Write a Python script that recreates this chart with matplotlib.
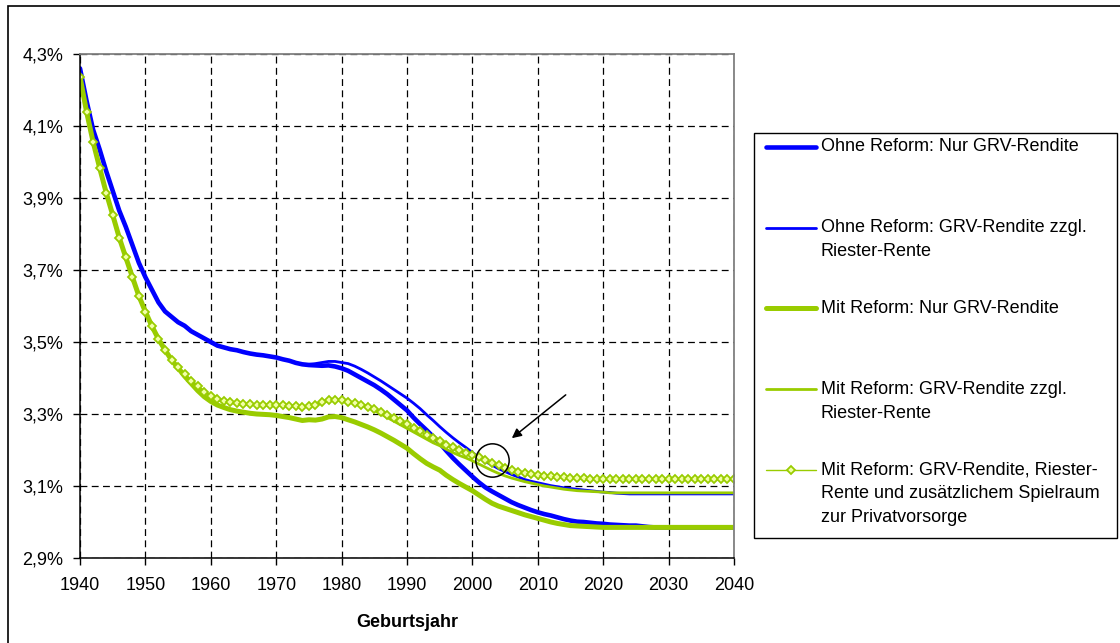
import numpy as np
import matplotlib
matplotlib.use("Agg")
import matplotlib.pyplot as plt
from matplotlib.lines import Line2D
from matplotlib.patches import Rectangle
from matplotlib.ticker import FuncFormatter

plt.rcParams['font.family'] = ['Liberation Sans', 'DejaVu Sans']

years = list(range(1940, 2041))

# Ohne Reform: Nur GRV-Rendite (in %)
ohne_nur_grv = [4.26, 4.17, 4.09, 4.035, 3.975, 3.92, 3.865, 3.82, 3.77, 3.72,
                3.68, 3.645, 3.61, 3.585, 3.57, 3.555, 3.545, 3.53, 3.52, 3.51,
                3.50, 3.49, 3.485, 3.48, 3.477, 3.472, 3.468, 3.465, 3.463, 3.46,
                3.457, 3.452, 3.448, 3.442, 3.438, 3.436, 3.435, 3.434, 3.435, 3.432,
                3.427, 3.42, 3.41, 3.40, 3.39, 3.38, 3.368, 3.355, 3.34, 3.325,
                3.31, 3.29, 3.272, 3.255, 3.237, 3.219, 3.198, 3.178, 3.16, 3.143,
                3.126, 3.11, 3.096, 3.085, 3.075, 3.065, 3.055, 3.047, 3.04, 3.033,
                3.027, 3.022, 3.018, 3.013, 3.008, 3.004, 3.001, 3.0, 2.998, 2.996,
                2.995, 2.993, 2.992, 2.991, 2.99, 2.99, 2.988, 2.986, 2.985, 2.985] + [2.985] * 11

# Ohne Reform: GRV-Rendite zzgl. Riester-Rente
ohne_riester = ohne_nur_grv[:35] + [
                3.438, 3.44, 3.443, 3.446, 3.446,
                3.443, 3.44, 3.433, 3.424, 3.414, 3.403, 3.392, 3.38, 3.368, 3.356,
                3.344, 3.33, 3.315, 3.298, 3.282, 3.265, 3.249, 3.234, 3.22, 3.207,
                3.193, 3.18, 3.168, 3.158, 3.148, 3.14, 3.132, 3.125, 3.118, 3.113,
                3.109, 3.105, 3.101, 3.098, 3.095, 3.093, 3.091, 3.089, 3.087, 3.085,
                3.083, 3.082, 3.08, 3.079, 3.078, 3.078, 3.078, 3.078, 3.078, 3.078] + [3.078] * 11

# Mit Reform: Nur GRV-Rendite
mit_nur_grv = [4.237, 4.14, 4.056, 3.984, 3.915, 3.853, 3.79, 3.735, 3.681, 3.628,
               3.584, 3.544, 3.508, 3.478, 3.45, 3.428, 3.405, 3.385, 3.365, 3.348,
               3.335, 3.325, 3.318, 3.312, 3.308, 3.305, 3.302, 3.30, 3.299, 3.298,
               3.296, 3.293, 3.29, 3.286, 3.282, 3.284, 3.283, 3.286, 3.292, 3.293,
               3.29, 3.284, 3.278, 3.271, 3.264, 3.256, 3.247, 3.237, 3.227, 3.216,
               3.205, 3.19, 3.176, 3.163, 3.153, 3.144, 3.13, 3.118, 3.107, 3.097,
               3.087, 3.075, 3.063, 3.052, 3.044, 3.038, 3.032, 3.026, 3.02, 3.015,
               3.01, 3.005, 3.0, 2.996, 2.993, 2.99, 2.989, 2.988, 2.987, 2.986] + [2.985] * 21

# Mit Reform: GRV-Rendite, Riester-Rente und Spielraum zur Privatvorsorge
mit_spielraum = mit_nur_grv[:15] + [
                3.43, 3.41, 3.393, 3.377, 3.362,
                3.35, 3.342, 3.336, 3.332, 3.33, 3.328, 3.327, 3.326, 3.326, 3.325,
                3.325, 3.324, 3.323, 3.322, 3.32, 3.322, 3.325, 3.332, 3.338, 3.34,
                3.338, 3.334, 3.33, 3.326, 3.32, 3.313, 3.305, 3.297, 3.289, 3.28,
                3.272, 3.262, 3.252, 3.242, 3.233, 3.224, 3.215, 3.207, 3.2, 3.193,
                3.187, 3.18, 3.172, 3.165, 3.157, 3.15, 3.145, 3.14, 3.137, 3.134,
                3.131, 3.129, 3.127, 3.125, 3.124, 3.123, 3.122, 3.121, 3.12, 3.12] + [3.119] * 21

# Mit Reform: GRV-Rendite zzgl. Riester-Rente
mit_riester = mit_spielraum[:45] + [
                3.31, 3.30, 3.29, 3.28, 3.27,
                3.26, 3.25, 3.24, 3.23, 3.22, 3.212, 3.202, 3.193, 3.185, 3.178,
                3.17, 3.161, 3.152, 3.143, 3.135, 3.128, 3.122, 3.117, 3.112, 3.108,
                3.104, 3.1, 3.097, 3.094, 3.091, 3.089, 3.087, 3.086, 3.085, 3.084,
                3.083] + [3.081] * 20

labels = [
    ["Ohne Reform: Nur GRV-Rendite"],
    ["Ohne Reform: GRV-Rendite zzgl.", "Riester-Rente"],
    ["Mit Reform: Nur GRV-Rendite"],
    ["Mit Reform: GRV-Rendite zzgl.", "Riester-Rente"],
    ["Mit Reform: GRV-Rendite, Riester-", "Rente und zusätzlichem Spielraum", "zur Privatvorsorge"],
]

blue = '#0000ff'
green = '#99cc00'

fig = plt.figure(figsize=(11.2, 6.43), dpi=100)
ax = fig.add_axes([80 / 1120, 1 - 558 / 643, 654 / 1120, 504 / 643])

styles = [
    dict(color=blue, lw=3.3),
    dict(color=blue, lw=2.0),
    dict(color=green, lw=3.6),
    dict(color=green, lw=2.0),
    dict(color=green, lw=1.0, marker='D', ms=4.2, mfc='#f2ffa8', mec=green, mew=1.3),
]
series = [ohne_nur_grv, ohne_riester, mit_nur_grv, mit_riester, mit_spielraum]
for s, st in zip(series, styles):
    ax.plot(years, s, solid_capstyle='round', **st)

ax.set_xlim(1940, 2040)
ax.set_ylim(2.9, 4.3)
ax.set_xticks(range(1940, 2041, 10))
ax.set_yticks(np.arange(2.9, 4.31, 0.2))
ax.yaxis.set_major_formatter(FuncFormatter(lambda v, p: f"{v:.1f}%".replace('.', ',')))
ax.grid(True, color='black', lw=0.9, linestyle=(0, (5.5, 3.5)))
ax.set_axisbelow(True)
ax.tick_params(labelsize=13, length=5, width=1, color='black', pad=9)
ax.tick_params(axis='y', pad=7)
for side in ['top', 'right']:
    ax.spines[side].set_color('#808080')
    ax.spines[side].set_linewidth(1.3)
for side in ['left', 'bottom']:
    ax.spines[side].set_linewidth(1.1)
ax.set_xlabel("Geburtsjahr", fontsize=13, fontweight='bold', labelpad=14)

# circle + arrow pointing at the crossing
ax.plot([2003.0], [3.172], marker='o', ms=24, mfc='none', mec='black', mew=1.1)
ax.annotate("", xy=(2005.7, 3.228), xytext=(2014.6, 3.358),
            arrowprops=dict(arrowstyle='-|>', color='black', lw=1.1, mutation_scale=14))

# legend box (Excel style: equal row spacing)
fig.patches.append(Rectangle((754 / 1120, 1 - 538 / 643), 363 / 1120, 405 / 643,
                             transform=fig.transFigure, fill=False, ec='black', lw=1.0))
row_y = [147, 228, 308, 389, 470]
for st, lab, y in zip(styles, labels, row_y):
    fy = 1 - y / 643
    fig.add_artist(Line2D([766 / 1120, 816 / 1120], [fy, fy], transform=fig.transFigure,
                          color=st['color'], lw=st['lw'], solid_capstyle='round'))
    if 'marker' in st:
        fig.add_artist(Line2D([791 / 1120], [fy], transform=fig.transFigure, marker='D',
                              ms=st['ms'], mfc=st['mfc'], mec=st['mec'], mew=st['mew']))
    for i, line in enumerate(lab):
        fig.text(821 / 1120, 1 - (y + 24 * i) / 643, line, fontsize=13, va='center', ha='left')

# outer chart border
fig.patches.append(Rectangle((8 / 1120, -0.05), 1.0, 1.05 - 6 / 643,
                             transform=fig.transFigure, fill=False, ec='black', lw=1.2))

fig.savefig("out.png", dpi=100)
